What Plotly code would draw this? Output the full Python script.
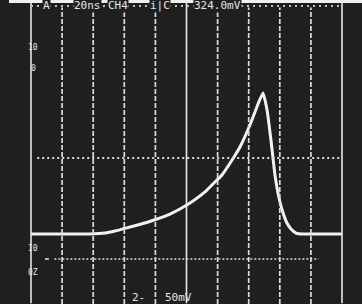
import plotly.graph_objects as go

# Waveform (time in ns, voltage in mV relative to baseline)
time_ns = [0, 18.6, 37.9, 47.6, 54.0, 63.7, 73.3, 81.0, 89.4, 95.8, 104.2, 111.9,
           117.0, 122.8, 129.3, 134.4, 140.8, 146.0, 149.2, 151.8, 154.3, 156.9,
           159.5, 162.1, 164.6, 167.2, 170.4, 174.3, 185.9, 200.0]
volt_mv = [0, 0, 0, 1.3, 3.9, 9.2, 14.5, 19.7, 26.3, 32.9, 43.4, 55.3,
           65.8, 77.6, 97.4, 114.5, 143.4, 171.1, 185.5, 163.2, 123.7, 77.6,
           47.4, 27.6, 14.5, 6.6, 1.3, 0, 0, 0]

# Graticule
div_times = [20, 40, 60, 80, 120, 140, 160, 180]
solid_times = [0, 100, 200]
center_level = 100
lower_level = -32.9
top_level = 300

top_labels = ["A", "20ns", "CH4", "i|C", "324.0mV"]
top_label_t = [7.1, 27, 49, 76, 104]
bottom_labels = ["2-", "50mV"]
bottom_label_t = [63.5, 85]
side_labels = ["10", "0", "I0", "0Z"]
side_label_v = [246, 218, -19.7, -50]

# pixel-to-unit scales (31.1 px per 20 ns, 38 px per 50 mV)
xpx = 1.555
ypx = 38 / 50
x_range = [-31 / xpx, (362 - 31) / xpx]
y_range = [-(304 - 234) / ypx, 234 / ypx]

fig = go.Figure()

shapes = []
line_col = "#dcdcdc"
for t in div_times:
    shapes.append(dict(type="line", xref="x", yref="y", x0=t, x1=t,
                       y0=y_range[0], y1=top_level - 2,
                       line=dict(color=line_col, width=1.7, dash="5px,2px")))
for t in solid_times:
    shapes.append(dict(type="line", xref="x", yref="y", x0=t, x1=t,
                       y0=y_range[0] + 1, y1=y_range[1] - 3,
                       line=dict(color="#e6e6e6", width=1.6)))
shapes.append(dict(type="line", xref="x", yref="y", x0=4, x1=200,
                   y0=center_level, y1=center_level,
                   line=dict(color=line_col, width=2.2, dash="2px,3px")))
shapes.append(dict(type="line", xref="x", yref="y", x0=15, x1=185,
                   y0=lower_level, y1=lower_level,
                   line=dict(color=line_col, width=1.7, dash="2px,2px")))
shapes.append(dict(type="line", xref="x", yref="y", x0=9, x1=11.5,
                   y0=lower_level, y1=lower_level,
                   line=dict(color=line_col, width=1.6)))
shapes.append(dict(type="line", xref="x", yref="y", x0=0, x1=200,
                   y0=top_level, y1=top_level,
                   line=dict(color="#bdbdbd", width=2, dash="2px,4px")))
# top white band
shapes.append(dict(type="rect", xref="paper", yref="paper", x0=9 / 362, x1=1,
                   y0=1 - 3 / 304, y1=1, fillcolor="#f0f0f0", line=dict(width=0),
                   layer="above"))

fig.add_trace(go.Scatter(x=time_ns, y=volt_mv, mode="lines",
                         line=dict(color="#f2f2f2", width=3, shape="spline",
                                   smoothing=0.4),
                         hoverinfo="skip", showlegend=False))

annotations = []
font = dict(family="DejaVu Sans Mono", size=11, color="#e6e6e6")
for txt, t in zip(top_labels, top_label_t):
    annotations.append(dict(x=t, y=top_level + 1, xref="x", yref="y", text=txt,
                            showarrow=False, xanchor="left", yanchor="middle",
                            font=font, bgcolor="#1f1f1f", borderpad=0))
for txt, t in zip(bottom_labels, bottom_label_t):
    annotations.append(dict(x=t, y=y_range[0] + 9, xref="x", yref="y", text=txt,
                            showarrow=False, xanchor="left", yanchor="middle",
                            font=font))
for txt, v in zip(side_labels, side_label_v):
    annotations.append(dict(x=1.5, y=v, xref="x", yref="y", text=txt,
                            showarrow=False, xanchor="center", yanchor="middle",
                            font=dict(family="DejaVu Sans Mono", size=8,
                                      color="#e6e6e6")))

fig.update_layout(
    width=362, height=304,
    margin=dict(l=0, r=0, t=0, b=0),
    paper_bgcolor="#1f1f1f", plot_bgcolor="#1f1f1f",
    xaxis=dict(range=x_range, visible=False, fixedrange=True),
    yaxis=dict(range=y_range, visible=False, fixedrange=True),
    shapes=shapes, annotations=annotations, showlegend=False,
)

fig.write_html("out.html", config={"displayModeBar": False},
               post_script="document.body.style.margin='0';"
                           "document.body.style.background='#1f1f1f';")
